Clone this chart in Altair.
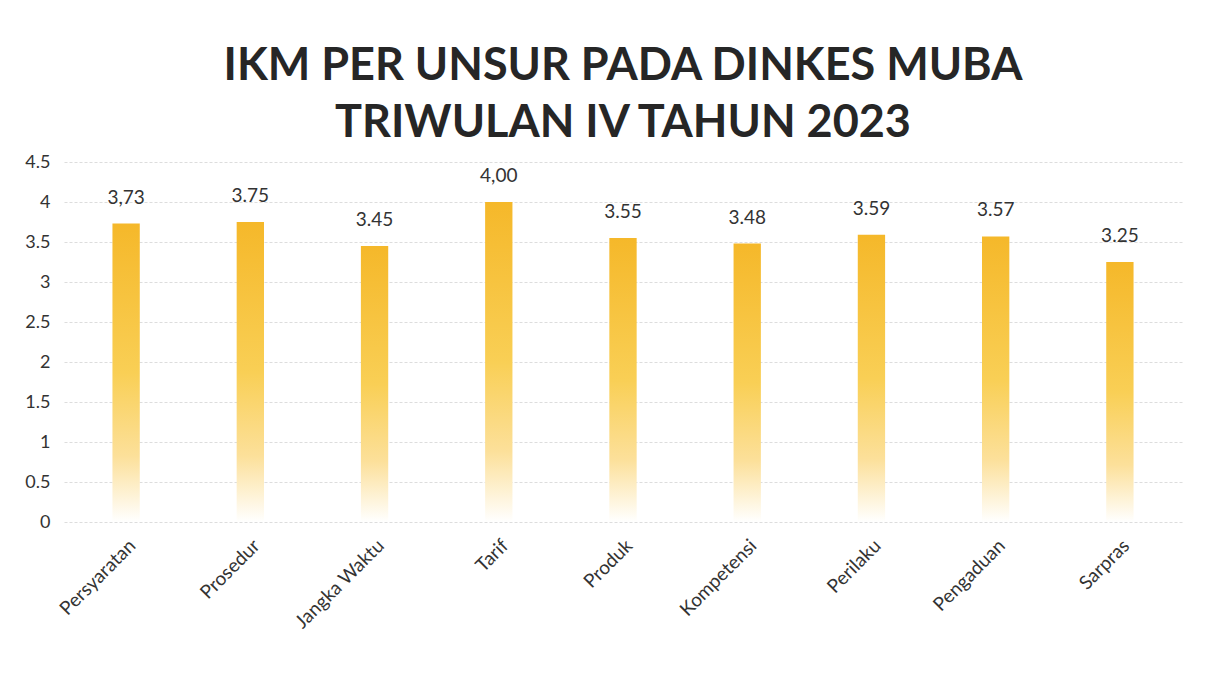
import altair as alt
import pandas as pd

categories = ["Persyaratan", "Prosedur", "Jangka Waktu", "Tarif", "Produk",
              "Kompetensi", "Perilaku", "Pengaduan", "Sarpras"]
values = [3.73, 3.75, 3.45, 4.00, 3.55, 3.48, 3.59, 3.57, 3.25]
value_labels = ["3,73", "3.75", "3.45", "4,00", "3.55", "3.48", "3.59", "3.57", "3.25"]
y_ticks = [0, 0.5, 1, 1.5, 2, 2.5, 3, 3.5, 4, 4.5]
title_lines = ["IKM PER UNSUR PADA DINKES MUBA", "TRIWULAN IV TAHUN 2023"]

df = pd.DataFrame({"unsur": categories, "nilai": values, "label": value_labels})

gradient = alt.Gradient(
    gradient="linear", x1=0, y1=0, x2=0, y2=1,
    stops=[
        alt.GradientStop(offset=0, color="#F5B82A"),
        alt.GradientStop(offset=0.5, color="#F9CF55"),
        alt.GradientStop(offset=0.78, color="#FCE09A"),
        alt.GradientStop(offset=1, color="#FFFFFF"),
    ],
)

x = alt.X("unsur:N", sort=categories, title=None,
          scale=alt.Scale(paddingInner=0.78, paddingOuter=0.39),
          axis=alt.Axis(labelAngle=-45, labelFont="Lato", labelFontSize=19,
                        labelColor="#333333", domain=False, ticks=False,
                        labelPadding=14))
y = alt.Y("nilai:Q", title=None, scale=alt.Scale(domain=[0, 4.5], nice=False),
          axis=alt.Axis(values=y_ticks, format="~g", labelOverlap=False,
                        labelFont="Lato", labelFontSize=18,
                        labelColor="#333333", domain=False, ticks=False,
                        labelPadding=14, gridColor="#DDDDDD", gridWidth=1,
                        gridDash=[3, 2]))

bars = alt.Chart(df).mark_bar(color=gradient).encode(x=x, y=y)
labels = alt.Chart(df).mark_text(
    font="Lato", fontSize=19, color="#333333", baseline="bottom", dy=-16
).encode(x=x, y=y, text="label:N")

chart = (bars + labels).properties(
    width=1118, height=360,
    background="white",
    title=alt.TitleParams(text=title_lines, font="Lato", fontSize=45,
                          fontWeight="bold", color="#262626", lineHeight=57,
                          anchor="middle", offset=7),
    autosize=alt.AutoSizeParams(type="none"),
    padding={"left": 56, "top": 154, "right": 40, "bottom": 170},
).configure_view(strokeWidth=0)

chart.save("out.html", embed_options={"renderer": "svg", "actions": False})
